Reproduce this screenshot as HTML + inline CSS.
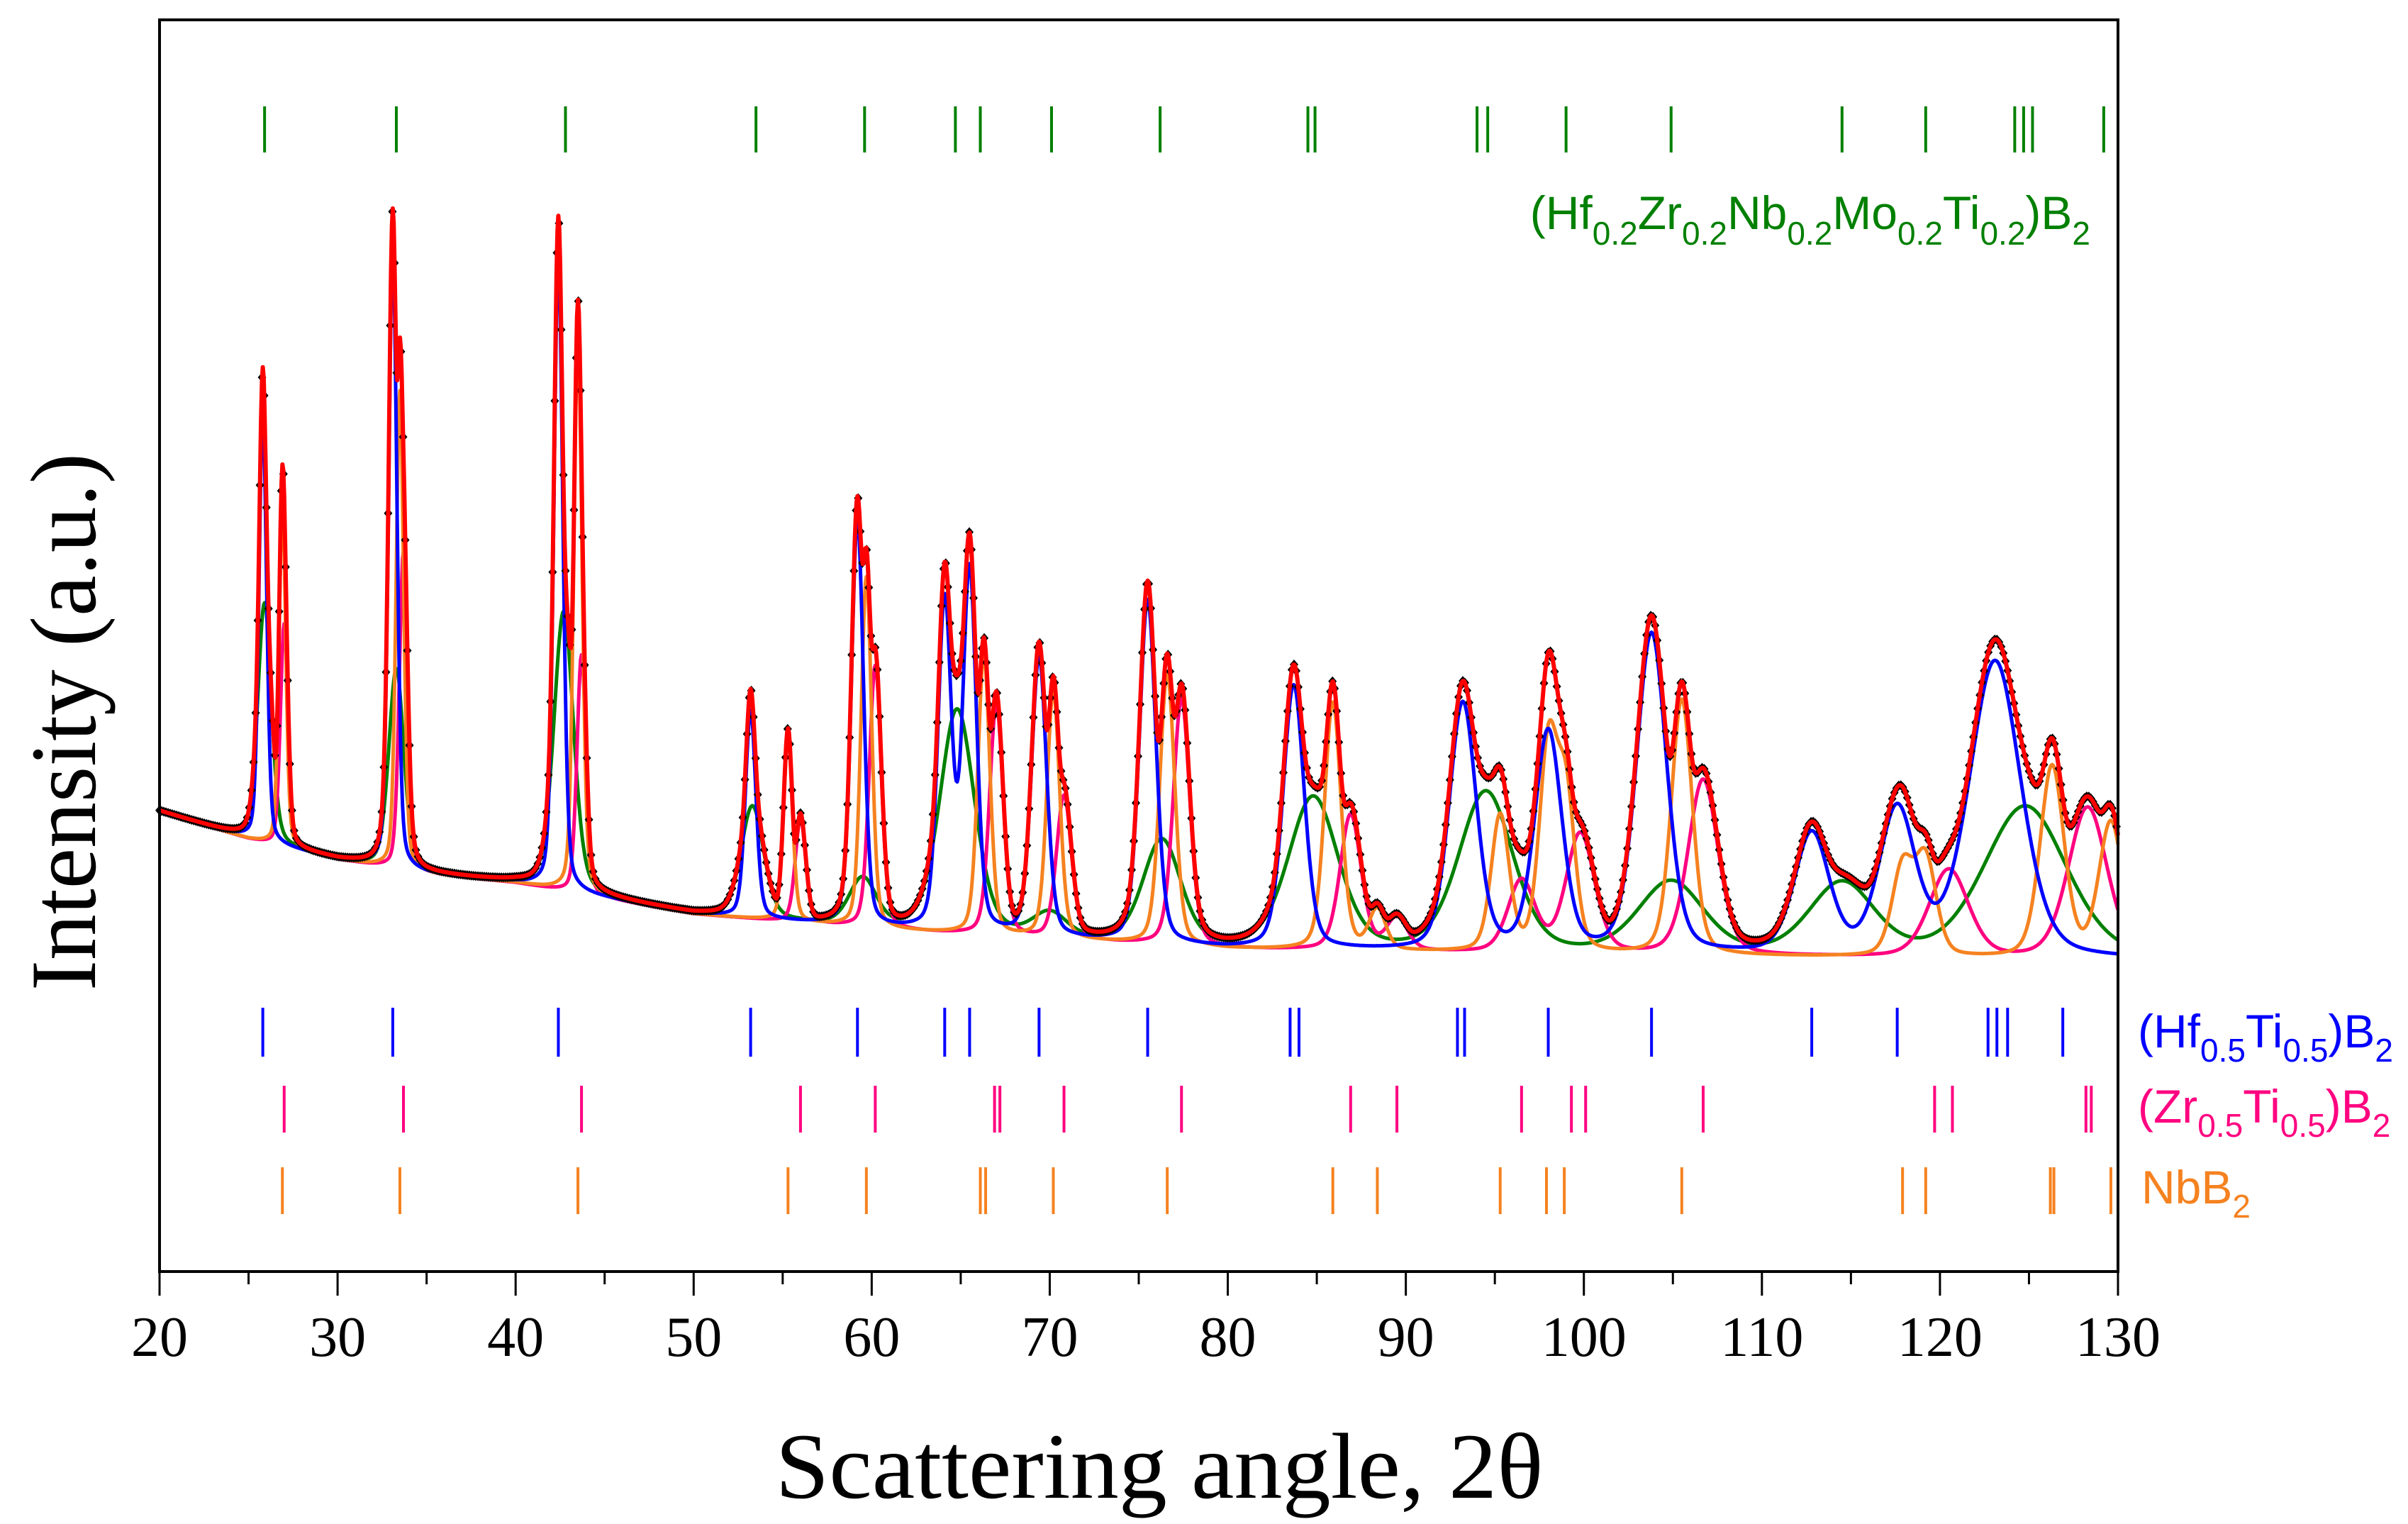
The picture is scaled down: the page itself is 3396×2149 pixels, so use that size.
<!DOCTYPE html>
<html><head><meta charset="utf-8"><style>
html,body{margin:0;padding:0;background:#fff;}
svg{display:block;}
</style></head><body>
<svg id="chart" xmlns="http://www.w3.org/2000/svg" width="3396" height="2149" viewBox="0 0 3396 2149">
<rect x="0" y="0" width="3396" height="2149" fill="#fff"/>
<g id="curves"></g>
<g id="ticks"></g>
<rect x="225" y="28" width="2762" height="1765" fill="none" stroke="#000" stroke-width="4"/>
<g id="xaxis"></g>
<text x="1635" y="2112" text-anchor="middle" font-family="'Liberation Serif',serif" font-size="132" textLength="1083" lengthAdjust="spacingAndGlyphs">Scattering angle, 2θ</text>
<text transform="translate(134,1018) rotate(-90)" text-anchor="middle" font-family="'Liberation Serif',serif" font-size="132" textLength="758" lengthAdjust="spacingAndGlyphs">Intensity (a.u.)</text>
<text x="2948" y="323" text-anchor="end" fill="#008000" font-family="'Liberation Sans',sans-serif" font-size="66">(Hf<tspan font-size="46" dy="22">0.2</tspan><tspan dy="-22">Zr</tspan><tspan font-size="46" dy="22">0.2</tspan><tspan dy="-22">Nb</tspan><tspan font-size="46" dy="22">0.2</tspan><tspan dy="-22">Mo</tspan><tspan font-size="46" dy="22">0.2</tspan><tspan dy="-22">Ti</tspan><tspan font-size="46" dy="22">0.2</tspan><tspan dy="-22">)B</tspan><tspan font-size="46" dy="22">2</tspan></text>
<text x="3015" y="1477" fill="#0000ff" font-family="'Liberation Sans',sans-serif" font-size="66">(Hf<tspan font-size="46" dy="20">0.5</tspan><tspan dy="-20">Ti</tspan><tspan font-size="46" dy="20">0.5</tspan><tspan dy="-20">)B</tspan><tspan font-size="46" dy="20">2</tspan></text>
<text x="3015" y="1583" fill="#ff0080" font-family="'Liberation Sans',sans-serif" font-size="66">(Zr<tspan font-size="46" dy="20">0.5</tspan><tspan dy="-20">Ti</tspan><tspan font-size="46" dy="20">0.5</tspan><tspan dy="-20">)B</tspan><tspan font-size="46" dy="20">2</tspan></text>
<text x="3020" y="1697" fill="#f58220" font-family="'Liberation Sans',sans-serif" font-size="66">NbB<tspan font-size="46" dy="20">2</tspan></text>
</svg>
<script>
const xTicks = [20,30,40,50,60,70,80,90,100,110,120,130];
const bgAngles = [20,25,30,35,40,50,60,70,80,100,130];
const bgValues = [21.5,18,15.4,13.6,12.5,8.6,6.7,5.4,4.2,3.5,2.9];
const bluePos = [25.8,33.1,42.4,53.2,59.2,64.1,65.5,69.4,75.5,83.7,93.2,98.0,103.8,112.8,117.6,123.1];
const blueHt  = [54,78,79,26,51,41,45,35,43,33,31,27.5,40,15,18,37];
const blueW   = [0.5,0.55,0.6,0.7,0.8,0.9,0.9,1.0,1.1,1.4,1.8,1.8,2.0,2.3,2.4,3.4];
const pinkPos = [27.0,33.7,43.7,56.0,60.2,67.0,70.8,77.4,86.9,89.5,96.5,99.8,106.7,120.5,128.3];
const pinkHt  = [28,40,30,13,33,29,18,31,17,4,9,15,22,11,19];
const pinkW   = [0.5,0.55,0.6,0.7,0.8,0.9,1.0,1.1,1.4,1.4,1.8,1.9,2.0,2.6,2.6];
const orangePos = [26.9,33.5,43.5,55.3,59.7,66.3,70.2,76.6,85.9,88.4,95.3,98.0,99.0,105.5,117.9,119.2,126.3,129.6];
const orangeHt  = [43,60,70,23,44,35,31,34,31,5,17,25,19,32,11,12,24,17];
const orangeW   = [0.45,0.5,0.55,0.6,0.7,0.8,0.85,1.0,1.1,1.1,1.2,1.2,1.2,1.4,1.4,1.4,1.6,1.6];
const greenPos = [25.9,33.3,42.7,53.3,59.5,64.8,70.0,76.3,84.8,94.5,104.9,114.5,124.8];
const greenHt  = [30,25,35,14,6,28,3,13,19,20,9,9,19];
const greenW   = [0.9,1.0,1.3,1.5,1.8,2.3,2.2,2.5,3.3,3.6,4.3,4.3,5.5];
const blueTicks = [25.8,33.1,42.4,53.2,59.2,64.1,65.5,69.4,75.5,83.5,84.0,92.9,93.3,98.0,103.8,112.8,117.6,122.7,123.2,123.8,126.9];
const pinkTicks = [27.0,33.7,43.7,56.0,60.2,66.9,67.2,70.8,77.4,86.9,89.5,96.5,99.3,100.1,106.7,119.7,120.7,128.2,128.5];
const orangeTicks = [26.9,33.5,43.5,55.3,59.7,66.1,66.4,70.2,76.6,85.9,88.4,95.3,97.9,98.9,105.5,117.9,119.2,126.2,126.4,129.6];
const greenTicks = [25.9,33.3,42.8,53.5,59.6,64.7,66.1,70.1,76.2,84.5,84.9,94.0,94.6,99.0,104.9,114.5,119.2,124.2,124.7,125.2,129.2];

const NS = 'http://www.w3.org/2000/svg';
const X0 = 225, X1 = 2987;
function xScale(t){ return X0 + (t - 20) / 110 * (X1 - X0); }
function yScale(I){ return 1386 - 11.26 * I; }
function bg(t){
  for (let i = 0; i < bgAngles.length - 1; i++) {
    if (t <= bgAngles[i+1]) { const f = (t - bgAngles[i]) / (bgAngles[i+1] - bgAngles[i]); return bgValues[i] + f * (bgValues[i+1] - bgValues[i]); }
  }
  return bgValues[bgValues.length - 1];
}
function pv(t, p, h, w){
  const d = (t - p) / (w / 2);
  return h * (0.7 * Math.exp(-Math.LN2 * d * d) + 0.3 / (1 + d * d));
}
function phase(t, P, H, W){ let s = 0; for (let i = 0; i < P.length; i++) s += pv(t, P[i], H[i], W[i]); return s; }
const STEP = 0.05;
const angles = [];
for (let t = 20; t <= 130.0001; t += STEP) angles.push(+t.toFixed(3));
const curves = document.getElementById('curves');
function drawCurve(fn, color, width, name){
  let d = '';
  angles.forEach((t, i) => { d += (i ? 'L' : 'M') + xScale(t).toFixed(1) + ',' + yScale(fn(t)).toFixed(1); });
  const p = document.createElementNS(NS, 'path');
  p.setAttribute('d', d); p.setAttribute('fill', 'none'); p.setAttribute('stroke', color);
  p.setAttribute('stroke-width', width); p.setAttribute('stroke-linejoin', 'round');
  
  
  curves.appendChild(p);
}
const g = t => phase(t, greenPos, greenHt, greenW);
const pk = t => phase(t, pinkPos, pinkHt, pinkW);
const o = t => phase(t, orangePos, orangeHt, orangeW);
const b = t => phase(t, bluePos, blueHt, blueW);
const total = t => bg(t) + Math.cbrt(g(t)**3 + pk(t)**3 + o(t)**3 + b(t)**3) * 1.05;
drawCurve(t => bg(t) + g(t), '#008000', 5, 'heb-fit-curve');
drawCurve(t => bg(t) + pk(t), '#ff0080', 5, 'zrti-fit-curve');
drawCurve(t => bg(t) + o(t), '#f58220', 5, 'nbb2-fit-curve');
drawCurve(t => bg(t) + b(t), '#0000ff', 5, 'hfti-fit-curve');
const obs = document.createElementNS(NS, 'g');


for (let t = 20; t <= 130; t += 0.12) {
  const cx = xScale(t), cy = yScale(total(t));
  const r = document.createElementNS(NS, 'path');
  r.setAttribute('d', `M${cx.toFixed(1)},${(cy-7).toFixed(1)}l6,7l-6,7l-6,-7z`);
  r.setAttribute('fill', '#000');
  
  
  obs.appendChild(r);
}
curves.appendChild(obs);
drawCurve(total, '#ff0000', 6, 'total-fit-curve');

const ticksG = document.getElementById('ticks');
function drawTicks(arr, color, y0, y1, name){
  arr.forEach(t => {
    const l = document.createElementNS(NS, 'line');
    l.setAttribute('x1', xScale(t)); l.setAttribute('x2', xScale(t));
    l.setAttribute('y1', y0); l.setAttribute('y2', y1);
    l.setAttribute('stroke', color); l.setAttribute('stroke-width', 4);
    
    
    ticksG.appendChild(l);
  });
}
drawTicks(greenTicks, '#008000', 150, 215, 'heb-reflection-tick');
drawTicks(blueTicks, '#0000ff', 1421, 1490, 'hfti-reflection-tick');
drawTicks(pinkTicks, '#ff0080', 1531, 1597, 'zrti-reflection-tick');
drawTicks(orangeTicks, '#f58220', 1646, 1712, 'nbb2-reflection-tick');

const xa = document.getElementById('xaxis');
xTicks.forEach((v, i) => {
  const x = xScale(v);
  const l = document.createElementNS(NS, 'line');
  l.setAttribute('x1', x); l.setAttribute('x2', x); l.setAttribute('y1', 1793); l.setAttribute('y2', 1827);
  l.setAttribute('stroke', '#000'); l.setAttribute('stroke-width', 3);
  
  
  xa.appendChild(l);
  const tx = document.createElementNS(NS, 'text');
  tx.setAttribute('x', x); tx.setAttribute('y', 1912); tx.setAttribute('text-anchor', 'middle');
  tx.setAttribute('font-family', "'Liberation Serif',serif"); tx.setAttribute('font-size', 80);
  tx.textContent = v;
  
  
  xa.appendChild(tx);
  if (i < xTicks.length - 1) {
    const m = document.createElementNS(NS, 'line');
    const xm = xScale(v + 5);
    m.setAttribute('x1', xm); m.setAttribute('x2', xm); m.setAttribute('y1', 1793); m.setAttribute('y2', 1811);
    m.setAttribute('stroke', '#000'); m.setAttribute('stroke-width', 3);
    
    
    xa.appendChild(m);
  }
});
</script>
</body></html>
